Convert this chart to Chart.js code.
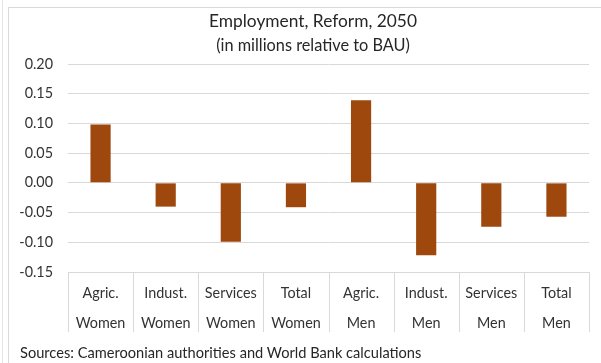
<!DOCTYPE html>
<html>
<head>
<meta charset="utf-8">
<script src="https://cdn.jsdelivr.net/npm/chart.js@4.4.1/dist/chart.umd.min.js"></script>
<style>
  html, body { margin: 0; padding: 0; background: #ffffff; }
  #wrap { position: relative; width: 601px; height: 363px; overflow: hidden; font-family: Lato, sans-serif; }
  #frame { position: absolute; left: 8px; top: 7px; width: 700px; height: 400px;
           border: 1px solid #d9d9d9; box-sizing: border-box; }
  #edge { position: absolute; left: 2px; top: 0; width: 1px; height: 363px; background: #e4e4e4; }
  canvas { position: absolute; left: 0; top: 0; }
  .txt { position: absolute; white-space: nowrap; color: #262626; }
  #title { left: 0; width: 626px; text-align: center; top: 10px; line-height: 22px; }
  #subtitle { left: 0; width: 626px; text-align: center; top: 35px; line-height: 20px; }
  #source { left: 20px; top: 344px; line-height: 18px; }
</style>
</head>
<body>
<div id="wrap">
  <div id="edge"></div>
  <div id="frame"></div>
  <canvas id="chart" width="601" height="363"></canvas>
  <div class="txt" id="title">Employment, Reform, 2050</div>
  <div class="txt" id="subtitle">(in millions relative to BAU)</div>
  <div class="txt" id="source">Sources: Cameroonian authorities and World Bank calculations</div>
</div>
<script>
// Employment change in 2050 under the reform, millions relative to BAU
const sectors = ['Agric.', 'Indust.', 'Services', 'Total', 'Agric.', 'Indust.', 'Services', 'Total'];
const groups = ['Women', 'Women', 'Women', 'Women', 'Men', 'Men', 'Men', 'Men'];
const employmentChange = [0.098, -0.040, -0.099, -0.041, 0.139, -0.122, -0.074, -0.057];
const yTicks = [-0.15, -0.10, -0.05, 0.00, 0.05, 0.10, 0.15, 0.20];

const fontFamily = 'Lato, sans-serif';
const textColor = '#333333';
const gridColor = '#d9d9d9';

// Pick a font size that gives a string the wanted rendered width
const measureCtx = document.createElement('canvas').getContext('2d');
function sizeForWidth(text, width) {
  measureCtx.font = '100px ' + fontFamily;
  return 100 * width / measureCtx.measureText(text).width;
}

const titleEl = document.getElementById('title');
titleEl.style.fontSize = sizeForWidth(titleEl.textContent, 208) + 'px';
const subEl = document.getElementById('subtitle');
subEl.style.fontSize = sizeForWidth(subEl.textContent, 194) + 'px';
const srcEl = document.getElementById('source');
srcEl.style.fontSize = sizeForWidth(srcEl.textContent, 402) + 'px';
const tickSize = sizeForWidth('Services', 52);

// Thin separators between category labels below the axis
const categorySeparators = {
  id: 'categorySeparators',
  afterDraw(chart) {
    const xs = chart.scales.x;
    const ctx = chart.ctx;
    ctx.save();
    ctx.strokeStyle = gridColor;
    ctx.lineWidth = 1;
    ctx.beginPath();
    for (let i = 0; i <= xs.ticks.length; i++) {
      const px = Math.round(xs.getPixelForValue(i - 0.5)) + 0.5;
      ctx.moveTo(px, xs.top);
      ctx.lineTo(px, xs.top + 60);
    }
    ctx.stroke();
    ctx.restore();
  }
};

new Chart(document.getElementById('chart'), {
  type: 'bar',
  data: {
    labels: sectors.map((s, i) => [s, groups[i]]),
    datasets: [{
      data: employmentChange,
      backgroundColor: '#9e480e',
      borderWidth: 0,
      categoryPercentage: 1.0,
      barPercentage: 0.31
    }]
  },
  plugins: [categorySeparators],
  options: {
    responsive: false,
    animation: false,
    layout: { padding: { left: 8, right: 12, top: 64, bottom: 19 } },
    plugins: {
      legend: { display: false },
      tooltip: { enabled: false }
    },
    scales: {
      x: {
        grid: { display: false, drawTicks: false },
        border: { display: true, color: gridColor },
        ticks: {
          color: textColor,
          padding: 6,
          maxRotation: 0,
          autoSkip: false,
          font: { family: fontFamily, size: tickSize, lineHeight: 30 / tickSize }
        }
      },
      y: {
        min: yTicks[0],
        max: yTicks[yTicks.length - 1],
        afterBuildTicks: (scale) => { scale.ticks = yTicks.map(v => ({ value: v })); },
        afterFit: (scale) => { scale.width = 60; },
        grid: { color: gridColor, drawTicks: false },
        border: { display: false },
        ticks: {
          color: textColor,
          padding: 15,
          font: { family: fontFamily, size: tickSize },
          callback: (v) => Number(v).toFixed(2)
        }
      }
    }
  }
});
</script>
</body>
</html>
